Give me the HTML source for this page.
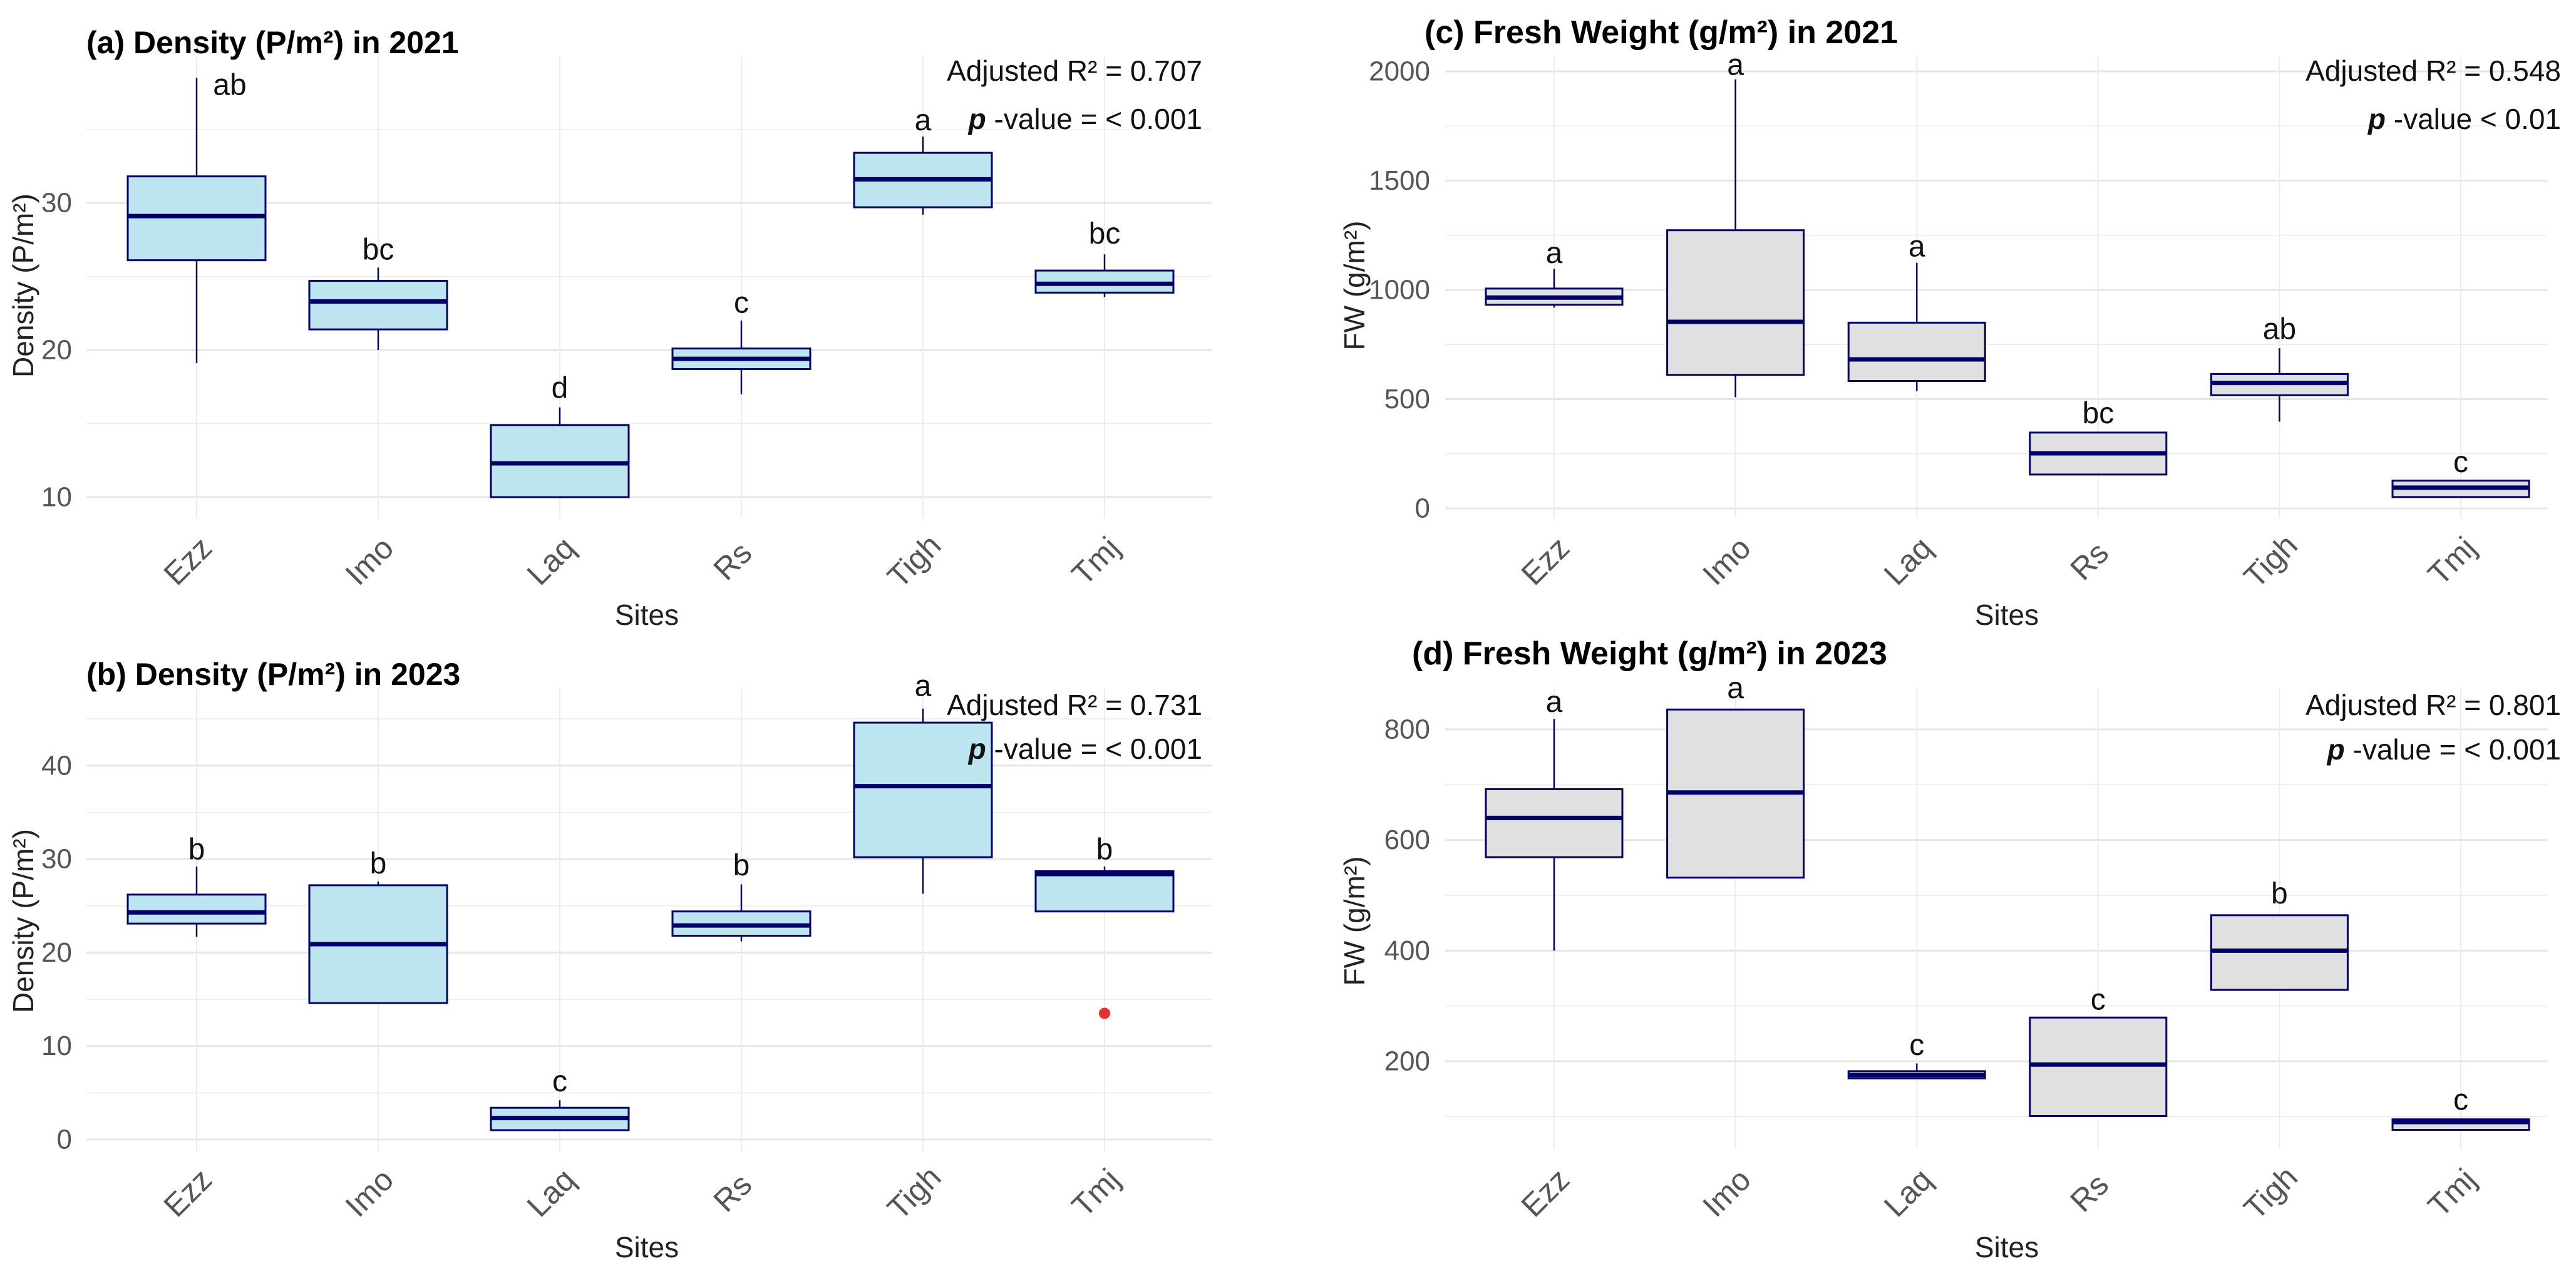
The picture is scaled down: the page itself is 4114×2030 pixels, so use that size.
<!DOCTYPE html>
<html><head><meta charset="utf-8"><style>
html,body{margin:0;padding:0;background:#fff;}
svg{display:block;font-family:"Liberation Sans",Arial,sans-serif;}
</style></head><body>
<svg id="chart" width="4114" height="2030" viewBox="0 0 4114 2030" xmlns="http://www.w3.org/2000/svg">
<rect width="4114" height="2030" fill="#fff"/>
</svg>
<script>
const categories = ["Ezz","Imo","Laq","Rs","Tigh","Tmj"];
// panel a: Density 2021
const aMin=[19.1,20.0,10.0,17.0,29.2,23.6];
const aQ1=[26.1,21.4,10.0,18.7,29.7,23.9];
const aMed=[29.1,23.3,12.3,19.4,31.6,24.5];
const aQ3=[31.8,24.7,14.9,20.1,33.4,25.4];
const aMax=[38.5,25.6,16.1,22.0,34.5,26.5];
const aLetters=["ab","bc","d","c","a","bc"];
const aLetterY=[38.0,26.8,17.4,23.2,35.6,27.9];
const aMajor=[10,20,30];
const aMinor=[15,25,35];
// panel b: Density 2023
const bMin=[21.7,14.6,1.0,21.2,26.3,24.4];
const bQ1=[23.1,14.6,1.0,21.8,30.2,24.4];
const bMed=[24.3,20.9,2.3,22.9,37.8,28.4];
const bQ3=[26.2,27.2,3.4,24.4,44.6,28.7];
const bMax=[29.2,27.6,4.2,27.3,46.1,29.2];
const bLetters=["b","b","c","b","a","b"];
const bLetterY=[31.0,29.5,6.2,29.3,48.5,31.0];
const bOutCat=["Tmj"];
const bOutVal=[13.5];
const bMajor=[0,10,20,30,40];
const bMinor=[5,15,25,35,45];
// panel c: FW 2021
const cMin=[919,509,537,155,397,52];
const cQ1=[932,611,583,155,518,52];
const cMed=[965,854,682,252,574,95];
const cQ3=[1006,1273,850,347,615,127];
const cMax=[1096,1963,1124,347,733,127];
const cLetters=["a","a","a","bc","ab","c"];
const cLetterY=[1167,2028,1198,434,820,211];
const cMajor=[0,500,1000,1500,2000];
const cMinor=[250,750,1250,1750];
// panel d: FW 2023
const dMin=[400,532,169,101,329,76];
const dQ1=[569,532,169,101,329,76];
const dMed=[640,686,175,194,400,90];
const dQ3=[692,836,182,279,464,95];
const dMax=[819,836,196,279,464,95];
const dLetters=["a","a","c","c","b","c"];
const dLetterY=[849,874,229,311,503,130];
const dMajor=[200,400,600,800];
const dMinor=[100,300,500,700];

const NS="http://www.w3.org/2000/svg";
const svg=document.getElementById("chart");
function mk(tag,attrs,parent,text){const e=document.createElementNS(NS,tag);for(const k in attrs)e.setAttribute(k,attrs[k]);if(text!==undefined)e.textContent=text;parent.appendChild(e);return e;}

function panel(cfg){
  const g=mk("g",{},svg);
  
  
  const y=v=>cfg.y0-(v-cfg.v0)*cfg.k;
  const x=i=>cfg.cx0+i*cfg.step;
  cfg.minor.forEach(v=>{const l=mk("line",{x1:cfg.gx0,x2:cfg.gx1,y1:y(v),y2:y(v),stroke:"#ececec","stroke-width":1.5},g);
    
    });
  cfg.major.forEach(v=>{const l=mk("line",{x1:cfg.gx0,x2:cfg.gx1,y1:y(v),y2:y(v),stroke:"#e6e6e6","stroke-width":3},g);
    
    
    const t=mk("text",{x:cfg.tickX,y:y(v),"text-anchor":"end","dominant-baseline":"central","font-size":44,fill:"#555"},g,String(v));
    
    });
  categories.forEach((c,i)=>{const l=mk("line",{x1:x(i),x2:x(i),y1:cfg.top,y2:cfg.bot,stroke:"#ececec","stroke-width":2},g);
    
    });
  const bw=cfg.bw;
  categories.forEach((c,i)=>{
    const bg=mk("g",{},g);
    
    
    mk("line",{x1:x(i),x2:x(i),y1:y(cfg.max[i]),y2:y(cfg.q3[i]),stroke:"#000066","stroke-width":2.5},bg);
    mk("line",{x1:x(i),x2:x(i),y1:y(cfg.q1[i]),y2:y(cfg.min[i]),stroke:"#000066","stroke-width":2.5},bg);
    mk("rect",{x:x(i)-bw/2,y:y(cfg.q3[i]),width:bw,height:Math.max(0.5,y(cfg.q1[i])-y(cfg.q3[i])),fill:cfg.fill,stroke:"#000066","stroke-width":3},bg);
    mk("line",{x1:x(i)-bw/2,x2:x(i)+bw/2,y1:y(cfg.med[i]),y2:y(cfg.med[i]),stroke:"#000066","stroke-width":7},bg);
    const lt=mk("text",{x:x(i)+(i===0&&cfg.firstOff?cfg.firstOff:0),y:y(cfg.ly[i]),"text-anchor":"middle","dominant-baseline":"central","font-size":48,fill:"#111"},g,cfg.letters[i]);
    
    
    const lx=x(i)-14;
    const xt=mk("text",{x:lx,y:cfg.xlabY,"text-anchor":"middle","dominant-baseline":"central","font-size":50,fill:"#555",transform:`rotate(-45 ${lx} ${cfg.xlabY})`},g,c);
    
    
  });
  if(cfg.outCat){cfg.outCat.forEach((c,j)=>{const i=categories.indexOf(c);
    const o=mk("circle",{cx:x(i),cy:y(cfg.outVal[j]),r:9,fill:"#e8312f"},g);
    
    });}
  const tt=mk("text",{x:cfg.titleX,y:cfg.titleY,"dominant-baseline":"central","font-size":cfg.titleSize,"font-weight":"bold",fill:"#000"},g,cfg.title);
  
  
  const r2=mk("text",{x:cfg.annX,y:cfg.r2Y,"text-anchor":"end","dominant-baseline":"central","font-size":46,fill:"#111"},g,cfg.r2);
  
  
  const pv=mk("text",{x:cfg.annX,y:cfg.pY,"text-anchor":"end","dominant-baseline":"central","font-size":46,fill:"#111"},g);
  
  
  mk("tspan",{"font-style":"italic","font-weight":"bold"},pv,"p");
  mk("tspan",{},pv," -value "+cfg.p);
  const yt=mk("text",{x:cfg.ytX,y:cfg.ytY,"text-anchor":"middle","dominant-baseline":"central","font-size":46,fill:"#222",transform:`rotate(-90 ${cfg.ytX} ${cfg.ytY})`},g,cfg.ytitle);
  
  
  const xtl=mk("text",{x:cfg.sitesX,y:cfg.sitesY,"text-anchor":"middle","dominant-baseline":"central","font-size":46,fill:"#222"},g,"Sites");
  
  
}

panel({name:"panel-a-density-2021",y0:794,v0:10,k:23.5,cx0:314,step:290,gx0:138,gx1:1936,top:91,bot:827,bw:220,fill:"#bde5f0",
  min:aMin,q1:aQ1,med:aMed,q3:aQ3,max:aMax,letters:aLetters,ly:aLetterY,major:aMajor,minor:aMinor,firstOff:53,tickX:115,xlabY:896,
  title:"(a) Density (P/m²) in 2021",titleSize:50,titleX:138,titleY:68,annX:1920,r2Y:113,pY:190,r2:"Adjusted R² = 0.707",p:"= < 0.001",
  ytitle:"Density (P/m²)",ytX:37,ytY:456,sitesX:1033,sitesY:982});
panel({name:"panel-b-density-2023",y0:1820,v0:0,k:14.93,cx0:314,step:290,gx0:138,gx1:1936,top:1100,bot:1839,bw:220,fill:"#bde5f0",
  min:bMin,q1:bQ1,med:bMed,q3:bQ3,max:bMax,letters:bLetters,ly:bLetterY,major:bMajor,minor:bMinor,tickX:115,xlabY:1905,
  outCat:bOutCat,outVal:bOutVal,
  title:"(b) Density (P/m²) in 2023",titleSize:50,titleX:138,titleY:1077,annX:1920,r2Y:1126,pY:1196,r2:"Adjusted R² = 0.731",p:"= < 0.001",
  ytitle:"Density (P/m²)",ytX:37,ytY:1471,sitesX:1033,sitesY:1992});
panel({name:"panel-c-fw-2021",y0:812,v0:0,k:0.349,cx0:2482,step:289.6,gx0:2308,gx1:4068,top:91,bot:827,bw:218,fill:"#e0e0e0",
  min:cMin,q1:cQ1,med:cMed,q3:cQ3,max:cMax,letters:cLetters,ly:cLetterY,major:cMajor,minor:cMinor,tickX:2284,xlabY:896,
  title:"(c) Fresh Weight (g/m²) in 2021",titleSize:52,titleX:2275,titleY:52,annX:4090,r2Y:113,pY:190,r2:"Adjusted R² = 0.548",p:" < 0.01",
  ytitle:"FW (g/m²)",ytX:2163,ytY:456,sitesX:3205,sitesY:982});
panel({name:"panel-d-fw-2023",y0:1695,v0:200,k:0.8833,cx0:2482,step:289.6,gx0:2308,gx1:4068,top:1100,bot:1835,bw:218,fill:"#e0e0e0",
  min:dMin,q1:dQ1,med:dMed,q3:dQ3,max:dMax,letters:dLetters,ly:dLetterY,major:dMajor,minor:dMinor,tickX:2284,xlabY:1905,
  title:"(d) Fresh Weight (g/m²) in 2023",titleSize:52,titleX:2255,titleY:1044,annX:4090,r2Y:1126,pY:1197,r2:"Adjusted R² = 0.801",p:"= < 0.001",
  ytitle:"FW (g/m²)",ytX:2163,ytY:1471,sitesX:3205,sitesY:1992});
</script>
</body></html>
